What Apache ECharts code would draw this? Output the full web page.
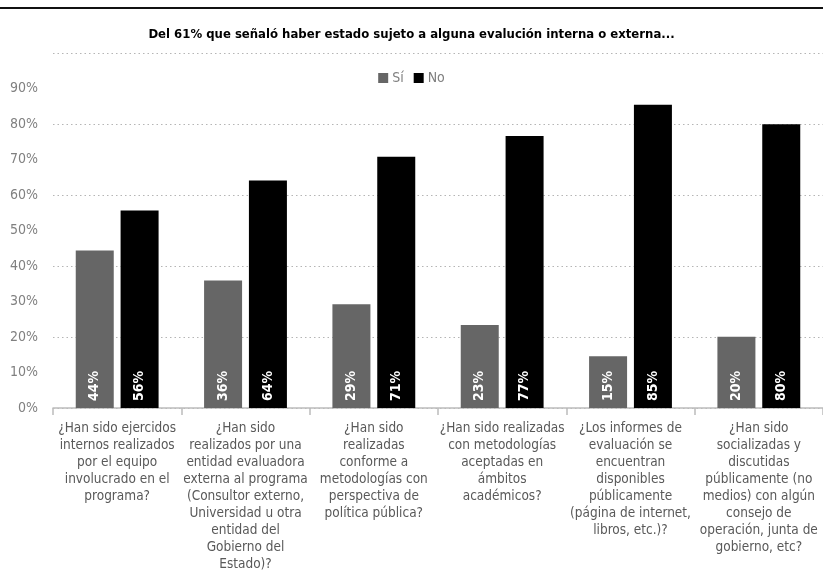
<!DOCTYPE html>
<html>
<head>
<meta charset="utf-8">
<script src="https://cdn.jsdelivr.net/npm/echarts@6/dist/echarts.min.js"></script>
<style>
  html, body { margin: 0; padding: 0; background: #fff; }
  #chart { width: 823px; height: 573px; }
</style>
</head>
<body>
<div id="chart"></div>
<script>
// Survey question categories (line breaks control label wrapping)
const categories = [
  '¿Han sido ejercidos\ninternos realizados\npor el equipo\ninvolucrado en el\nprograma?',
  '¿Han sido\nrealizados por una\nentidad evaluadora\nexterna al programa\n(Consultor externo,\nUniversidad u otra\nentidad del\nGobierno del\nEstado)?',
  '¿Han sido\nrealizadas\nconforme a\nmetodologías con\nperspectiva de\npolítica pública?',
  '¿Han sido realizadas\ncon metodologías\naceptadas en\námbitos\nacadémicos?',
  '¿Los informes de\nevaluación se\nencuentran\ndisponibles\npúblicamente\n(página de internet,\nlibros, etc.)?',
  '¿Han sido\nsocializadas y\ndiscutidas\npúblicamente (no\nmedios) con algún\nconsejo de\noperación, junta de\ngobierno, etc?'
];

// Share of respondents (%)
const siValues = [44.4, 35.9, 29.2, 23.4, 14.6, 20.1];
const noValues = [55.6, 64.1, 70.8, 76.6, 85.4, 79.9];

const titleText = 'Del 61% que señaló haber estado sujeto a alguna evalución interna o externa...';
const seriesNames = ['Sí', 'No'];

const FONT = '"DejaVu Sans Condensed", "Liberation Sans Narrow", "Noto Sans", sans-serif';

const chart = echarts.init(document.getElementById('chart'), null, { renderer: 'canvas' });

const barLabel = {
  show: true,
  position: 'insideBottom',
  distance: 7,
  rotate: 90,
  align: 'left',
  verticalAlign: 'middle',
  color: '#fff',
  fontFamily: FONT,
  fontWeight: 'bold',
  fontSize: 14,
  formatter: p => Math.round(p.value) + '%'
};

chart.setOption({
  animation: false,
  backgroundColor: '#fff',
  title: {
    text: titleText,
    left: 'center',
    top: 23,
    textStyle: { fontFamily: FONT, fontWeight: 'bold', fontSize: 13, color: '#000' }
  },
  legend: {
    data: seriesNames,
    left: 'center',
    top: 66,
    itemWidth: 10,
    itemHeight: 10,
    itemGap: 10,
    icon: 'rect',
    textStyle: { fontFamily: FONT, fontSize: 14, color: '#7f7f7f', padding: [0, 0, 0, -1] }
  },
  grid: { left: 53, right: -2, top: 53, bottom: 163, containLabel: false },
  xAxis: {
    type: 'category',
    data: categories,
    axisLine: { lineStyle: { color: '#bcbcbc', width: 1.5 } },
    axisTick: { show: true, length: 7, alignWithLabel: false, lineStyle: { color: '#bcbcbc', width: 1.5 } },
    axisLabel: {
      interval: 0,
      margin: 12,
      fontFamily: FONT,
      fontSize: 13.5,
      lineHeight: 17,
      color: '#595959',
      align: 'center'
    }
  },
  yAxis: [
    {
      type: 'value',
      min: 0,
      max: 100,
      interval: 10,
      showMaxLabel: false,
      axisLine: { show: false },
      axisTick: { show: false },
      splitLine: { show: false },
      axisLabel: {
        margin: 15,
        fontFamily: FONT,
        fontSize: 14,
        color: '#808080',
        formatter: v => (v >= 100 ? '' : v + '%')
      }
    },
    {
      type: 'value',
      position: 'left',
      min: 0,
      max: 100,
      interval: 20,
      axisLine: { show: false },
      axisTick: { show: false },
      axisLabel: { show: false },
      splitLine: { show: true, lineStyle: { color: '#b5b5b5', type: [1.5, 3], width: 1 } }
    }
  ],
  series: [
    {
      name: seriesNames[0],
      type: 'bar',
      data: siValues,
      barWidth: 38,
      barGap: '18%',
      itemStyle: { color: '#666666' },
      label: barLabel
    },
    {
      name: seriesNames[1],
      type: 'bar',
      data: noValues,
      barWidth: 38,
      barGap: '18%',
      itemStyle: { color: '#000000' },
      label: barLabel
    }
  ],
  graphic: [
    {
      type: 'rect',
      shape: { x: 0, y: 7, width: 823, height: 2 },
      style: { fill: '#111' }
    }
  ]
});
</script>
</body>
</html>
